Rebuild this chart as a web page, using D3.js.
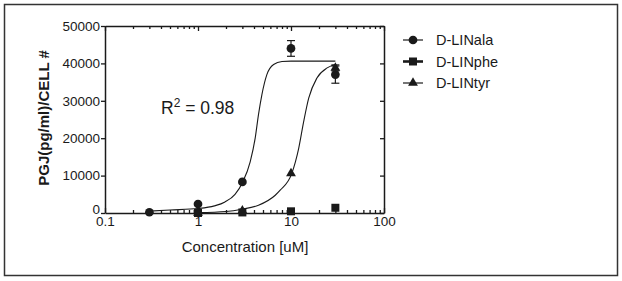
<!DOCTYPE html>
<html>
<head>
<meta charset="utf-8">
<script src="https://cdn.jsdelivr.net/npm/d3@7"></script>
<style>
  body { margin: 0; background: #fff; }
  svg { display: block; font-family: "Liberation Sans", Arial, sans-serif; }
</style>
</head>
<body>
<div id="chart"></div>
<script>
/** DATA */
const alaX = [0.3, 1, 3, 10, 30],
  alaY = [200, 2400, 8300, 44000, 37000],
  alaErr = [0, 0, 0, 2100, 2300];
const pheX = [1, 3, 10, 30],
  pheY = [0, 150, 450, 1400];
const tyrX = [1, 3, 10, 30],
  tyrY = [0, 600, 10600, 38800],
  tyrErr = [0, 0, 0, 800];

// fitted curves
const alaFitX = [0.3, 0.5, 1, 1.5, 1.95, 2.5, 3.03, 3.64, 4.12, 4.47, 4.86, 5.5, 6.5, 8, 10, 30],
  alaFitY = [500, 800, 1200, 1900, 2960, 5000, 8300, 13700, 20000, 26300, 31600, 37000, 39700, 40500, 40600, 40600];
const tyrFitX = [1, 2, 2.96, 4.47, 6.77, 7.65, 10.2, 12.1, 13.7, 15.5, 19, 24.5, 30],
  tyrFitY = [100, 400, 1000, 2070, 4750, 6100, 10600, 17300, 24500, 30700, 36100, 38800, 39700];

const xTicks = [0.1, 1, 10, 100],
  yTicks = [0, 10000, 20000, 30000, 40000, 50000];
const seriesNames = ["D-LINala", "D-LINphe", "D-LINtyr"];

/** SETUP */
const width = 622, height = 281;
const ink = "#1a1a1a";

const svg = d3.select("#chart").append("svg")
  .attr("width", width).attr("height", height);

// outer frame
svg.append("rect")
  .attr("x", 4.5).attr("y", 4.5)
  .attr("width", 613).attr("height", 271)
  .attr("fill", "none").attr("stroke", "#333").attr("stroke-width", 1.5);

const x = d3.scaleLog().domain([0.1, 100]).range([105, 384]);
const y = d3.scaleLinear().domain([0, 50000]).range([213, 26]);

// minor ticks for log axis
let minor = [];
[0.1, 1, 10].forEach(d => { for (let k = 2; k <= 9; k++) minor.push(d * k); });

const axisStyle = g => {
  g.select(".domain").attr("stroke", ink).attr("stroke-width", 1.5);
  g.selectAll(".tick line").attr("stroke", ink).attr("stroke-width", 1.3);
  g.selectAll("text").attr("fill", ink).attr("font-size", 13.5);
};

// bottom axis, ticks point inside
svg.append("g")
  .attr("transform", `translate(0,${y(0)})`)
  .call(d3.axisBottom(x).tickValues(minor).tickFormat("").tickSizeInner(-3).tickSizeOuter(0))
  .call(axisStyle);
svg.append("g")
  .attr("transform", `translate(0,${y(0)})`)
  .call(d3.axisBottom(x).tickValues(xTicks).tickFormat(d3.format("~g")).tickSizeInner(-5).tickSizeOuter(0))
  .call(axisStyle)
  .call(g => g.select(".domain").remove())
  .call(g => g.selectAll("text").attr("y", 3));

// top axis
svg.append("g")
  .attr("transform", `translate(0,${y(50000)})`)
  .call(d3.axisTop(x).tickValues(minor).tickFormat("").tickSizeInner(-3).tickSizeOuter(0))
  .call(axisStyle);
svg.append("g")
  .attr("transform", `translate(0,${y(50000)})`)
  .call(d3.axisTop(x).tickValues(xTicks).tickFormat("").tickSizeInner(-5).tickSizeOuter(0))
  .call(axisStyle)
  .call(g => g.select(".domain").remove());

// left axis, ticks outside
svg.append("g")
  .attr("transform", `translate(${x(0.1)},0)`)
  .call(d3.axisLeft(y).tickValues(yTicks).tickFormat(d3.format("d")).tickSizeInner(4).tickSizeOuter(0).tickPadding(1))
  .call(axisStyle)
  .call(g => g.selectAll("text").filter(d => d === 0).attr("dy", "0.05em"));

// right axis, ticks inside
svg.append("g")
  .attr("transform", `translate(${x(100)},0)`)
  .call(d3.axisRight(y).tickValues(yTicks).tickFormat("").tickSizeInner(-4).tickSizeOuter(0))
  .call(axisStyle);

// axis titles
svg.append("text")
  .attr("x", 245).attr("y", 252)
  .attr("text-anchor", "middle")
  .attr("font-size", 15).attr("fill", ink)
  .text("Concentration [uM]");

svg.append("text")
  .attr("transform", "translate(49,118) rotate(-90)")
  .attr("text-anchor", "middle")
  .attr("font-size", 15).attr("font-weight", "bold").attr("fill", ink)
  .text("PGJ(pg/ml)/CELL #");

// R squared
const r2 = svg.append("text")
  .attr("x", 161).attr("y", 114)
  .attr("font-size", 17.5).attr("fill", ink);
r2.append("tspan").text("R");
r2.append("tspan").attr("dy", -7).attr("font-size", 12).text("2");
r2.append("tspan").attr("dy", 7).text(" = 0.98");

/** CURVES */
const line = d3.line()
  .x(d => x(d[0])).y(d => y(d[1]))
  .curve(d3.curveMonotoneX);

svg.append("path")
  .datum(d3.zip(alaFitX, alaFitY))
  .attr("d", line)
  .attr("fill", "none").attr("stroke", ink).attr("stroke-width", 1.1);
svg.append("path")
  .datum(d3.zip(tyrFitX, tyrFitY))
  .attr("d", line)
  .attr("fill", "none").attr("stroke", ink).attr("stroke-width", 1.1);

/** MARKERS */
const sym = {
  circle: d3.symbol().type(d3.symbolCircle).size(60),
  square: d3.symbol().type(d3.symbolSquare).size(64),
  triangle: d3.symbol().type(d3.symbolTriangle).size(42)
};

function errorBars(xs, ys, errs) {
  const g = svg.append("g").attr("stroke", ink).attr("stroke-width", 1.2);
  d3.zip(xs, ys, errs).filter(d => d[2] > 0).forEach(d => {
    const cx = x(d[0]);
    g.append("line").attr("x1", cx).attr("x2", cx).attr("y1", y(d[1] - d[2])).attr("y2", y(d[1] + d[2]));
    [d[1] - d[2], d[1] + d[2]].forEach(v => {
      g.append("line").attr("x1", cx - 4).attr("x2", cx + 4).attr("y1", y(v)).attr("y2", y(v));
    });
  });
}

function markers(xs, ys, shape) {
  svg.append("g")
    .selectAll("path")
    .data(d3.zip(xs, ys))
    .join("path")
    .attr("transform", d => `translate(${x(d[0])},${y(d[1])})`)
    .attr("d", sym[shape])
    .attr("fill", ink);
}

errorBars(alaX, alaY, alaErr);
errorBars(tyrX, tyrY, tyrErr);
markers(pheX, pheY, "square");
markers(tyrX, tyrY, "triangle");
markers(alaX, alaY, "circle");

/** LEGEND */
const shapes = ["circle", "square", "triangle"],
  lineW = [1.2, 2.6, 1.2];
const legend = svg.append("g")
  .selectAll("g")
  .data(seriesNames)
  .join("g")
  .attr("transform", (d, i) => `translate(413,${40 + i * 21.5})`);

legend.append("line")
  .attr("x1", -10).attr("x2", 10)
  .attr("stroke", ink).attr("stroke-width", (d, i) => lineW[i]);
legend.append("path")
  .attr("d", (d, i) => sym[shapes[i]]())
  .attr("fill", ink);
legend.append("text")
  .attr("x", 23).attr("dy", "0.35em")
  .attr("font-size", 14.5).attr("fill", ink)
  .text(d => d);
</script>
</body>
</html>
